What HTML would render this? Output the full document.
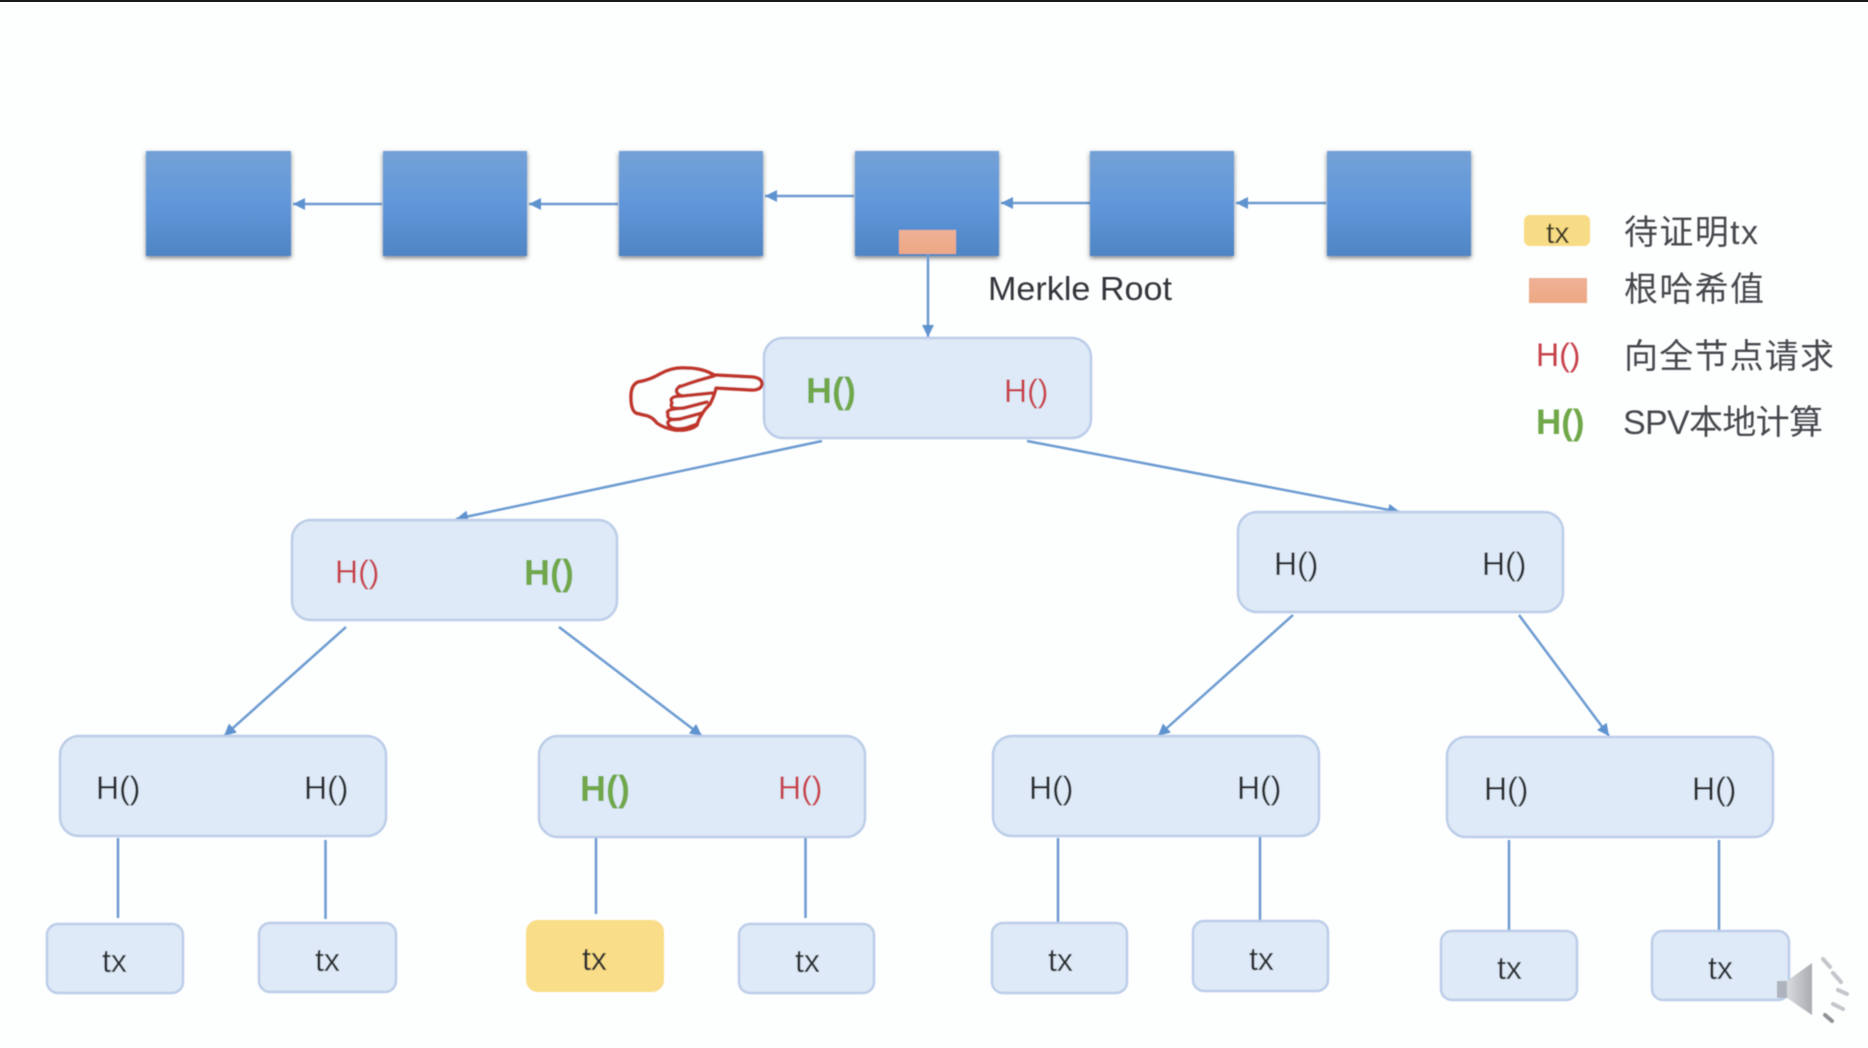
<!DOCTYPE html>
<html>
<head>
<meta charset="utf-8">
<style>
html,body{margin:0;padding:0;background:#fdfefe;width:1868px;height:1048px;overflow:hidden}
svg{display:block}
text{font-family:"Liberation Sans","Noto Sans CJK SC",sans-serif}
.k{font-size:32px;fill:#2b2e33}
.r{font-size:32px;fill:#c8424c}
.g{font-size:36px;fill:#6fa84a;font-weight:bold}
.c{font-size:34px;fill:#45484d}
.n{fill:#deeaf7;stroke:#bccde9;stroke-width:2.5}
.l{stroke:#6c9bd1;stroke-width:2.5;fill:none}
.a{stroke:#6c9bd1;stroke-width:2.5;fill:none;marker-end:url(#ah)}
</style>
</head>
<body>
<svg width="1868" height="1048" viewBox="0 0 1868 1048" xmlns="http://www.w3.org/2000/svg">
<defs>
<linearGradient id="b" x1="0" y1="0" x2="0" y2="1">
<stop offset="0" stop-color="#74a1d6"/><stop offset=".5" stop-color="#6197da"/><stop offset="1" stop-color="#4f85c3"/>
</linearGradient>
<linearGradient id="o" x1="0" y1="0" x2="0" y2="1">
<stop offset="0" stop-color="#eeb196"/><stop offset="1" stop-color="#eda884"/>
</linearGradient>
<linearGradient id="sp" x1="0" y1="0" x2="1" y2="0">
<stop offset="0" stop-color="#d8dadd"/><stop offset="1" stop-color="#a9acb1"/>
</linearGradient>
<marker id="ah" markerUnits="userSpaceOnUse" markerWidth="14" markerHeight="12" refX="12" refY="6" orient="auto">
<path d="M0 0 L12 6 L0 12 Z" fill="#5f93cf"/>
</marker>
<filter id="s" x="-10%" y="-10%" width="120%" height="125%">
<feDropShadow dx="0" dy="2" stdDeviation="2.500" flood-color="#444" flood-opacity=".7"/>
</filter>
<filter id="soft"><feGaussianBlur stdDeviation="0.6"/></filter>
</defs>
<rect width="1868" height="1048" fill="#fdfefe"/>
<rect width="1868" height="2" fill="#1a1a1a"/>
<g filter="url(#soft)">
<!-- chain arrows -->
<path class="a" d="M382 204 H293"/>
<path class="a" d="M618 204 H529"/>
<path class="a" d="M854 196 H765"/>
<path class="a" d="M1090 203 H1001"/>
<path class="a" d="M1326 203 H1236"/>
<!-- blocks -->
<g fill="url(#b)" filter="url(#s)">
<rect x="146" y="151" width="145" height="105"/>
<rect x="383" y="151" width="144" height="105"/>
<rect x="619" y="151" width="144" height="105"/>
<rect x="855" y="151" width="144" height="105"/>
<rect x="1090" y="151" width="144" height="105"/>
<rect x="1327" y="151" width="144" height="105"/>
</g>
<rect x="899" y="230" width="57" height="24" fill="url(#o)"/>
<path class="a" d="M928 254 V337"/>
<text x="988" y="300" class="k" style="fill:#33363a;font-size:33px" textLength="184" lengthAdjust="spacingAndGlyphs">Merkle Root</text>

<!-- tree connectors -->
<path class="a" d="M822 441 L456 519"/>
<path class="a" d="M1027 441 L1400 512"/>
<path class="a" d="M346 627 L224 736"/>
<path class="a" d="M559 627 L702 736"/>
<path class="a" d="M1293 615 L1158 736"/>
<path class="a" d="M1519 615 L1609 736"/>
<path class="l" d="M118 838 V918"/>
<path class="l" d="M325.500 840 V919"/>
<path class="l" d="M596 835 V914"/>
<path class="l" d="M805.500 838 V918"/>
<path class="l" d="M1058 838 V923"/>
<path class="l" d="M1260 836 V920"/>
<path class="l" d="M1509 840 V931"/>
<path class="l" d="M1719 840 V931"/>

<!-- hash nodes -->
<rect class="n" x="764" y="338" width="327" height="100" rx="19"/>
<rect class="n" x="292" y="520" width="325" height="100" rx="19"/>
<rect class="n" x="1238" y="512" width="325" height="100" rx="19"/>
<rect class="n" x="60" y="736" width="326" height="100" rx="19"/>
<rect class="n" x="539" y="736" width="326" height="101" rx="19"/>
<rect class="n" x="993" y="736" width="326" height="100" rx="19"/>
<rect class="n" x="1447" y="737" width="326" height="100" rx="19"/>

<!-- tx nodes -->
<rect class="n" x="47" y="924" width="136" height="69" rx="11"/>
<rect class="n" x="259" y="923" width="137" height="69" rx="11"/>
<rect x="526" y="920" width="138" height="72" rx="12" fill="#f9dd88"/>
<rect class="n" x="739" y="924" width="135" height="69" rx="11"/>
<rect class="n" x="992" y="923" width="135" height="70" rx="11"/>
<rect class="n" x="1193" y="921" width="135" height="70" rx="11"/>
<rect class="n" x="1441" y="931" width="136" height="69" rx="11"/>
<rect class="n" x="1652" y="931" width="137" height="69" rx="11"/>

<!-- H() labels -->
<text x="806" y="403" class="g">H()</text>
<text x="1004" y="402" class="r">H()</text>
<text x="335" y="583" class="r">H()</text>
<text x="524" y="585" class="g">H()</text>
<text x="1274" y="575" class="k">H()</text>
<text x="1482" y="575" class="k">H()</text>
<text x="96" y="799" class="k">H()</text>
<text x="304" y="799" class="k">H()</text>
<text x="580" y="801" class="g">H()</text>
<text x="778" y="799" class="r">H()</text>
<text x="1029" y="799" class="k">H()</text>
<text x="1237" y="799" class="k">H()</text>
<text x="1484" y="800" class="k">H()</text>
<text x="1692" y="800" class="k">H()</text>

<!-- tx labels -->
<text x="102" y="972" class="k">tx</text>
<text x="315" y="971" class="k">tx</text>
<text x="582" y="970" class="k">tx</text>
<text x="795" y="972" class="k">tx</text>
<text x="1048" y="971" class="k">tx</text>
<text x="1249" y="970" class="k">tx</text>
<text x="1497" y="979" class="k">tx</text>
<text x="1708" y="979" class="k">tx</text>

<!-- hand -->
<g fill="#fdfefe" stroke="#c0362c" stroke-width="3.500" stroke-linejoin="round" stroke-linecap="round">
<path d="M631 397 Q631 385 638 382 Q650 380 660 374 Q672 367 686 368 Q702 368 714 375 L752 377 Q762 378 762 384 Q761 390 752 390 L716 388 Q714 396 710 404 Q704 410 702 414 Q698 420 697 425 Q690 431 675 430 Q664 428 657 423 Q652 416 644 415 L636 413 Q631 410 631 397 Z"/>
<path d="M679 387 Q695 381 714 376" fill="none"/>
<path d="M680 386 Q672 392 682 396 L712 393" fill="none"/>
<path d="M672 403 Q668 396 682 396 M672 403 Q668 410 684 408 L707 402" fill="none"/>
<path d="M668 414 Q664 409 684 408 M668 414 Q666 421 680 419 L702 413" fill="none"/>
<path d="M668 424 Q666 419 680 419 M668 424 Q672 431 686 428 L697 424" fill="none"/>
</g>

<!-- legend -->
<rect x="1524" y="215" width="66" height="31" rx="6" fill="#f8dc85"/>
<text x="1546" y="243" class="k" style="font-size:30px;fill:#3a3826">tx</text>
<rect x="1529" y="278" width="58" height="25" fill="url(#o)"/>
<text x="1536" y="366" class="r" style="font-size:32px">H()</text>
<text x="1536" y="434" class="g" style="font-size:35px">H()</text>
<text x="1624" y="244" class="c" textLength="134">待证明tx</text>
<text x="1624" y="301" class="c" textLength="140">根哈希值</text>
<text x="1624" y="368" class="c" textLength="210">向全节点请求</text>
<text x="1623" y="434" class="c" textLength="200">SPV本地计算</text>

<!-- speaker -->
<rect x="1777" y="981" width="16" height="17" fill="#aeb3bd"/>
<path d="M1787 981 L1812 963 V1015 L1787 998 Z" fill="url(#sp)"/>
<g stroke="#c3c6ca" stroke-width="4" stroke-linecap="round" fill="none">
<path d="M1823 959 L1830 967"/>
<path d="M1833 973 L1841 982"/>
<path d="M1838 990 L1847 994"/>
<path d="M1833 1004 L1843 1009"/>
<path d="M1825 1015 L1832 1021" stroke="#8d9094"/>
</g>
</g>
</svg>
</body>
</html>
